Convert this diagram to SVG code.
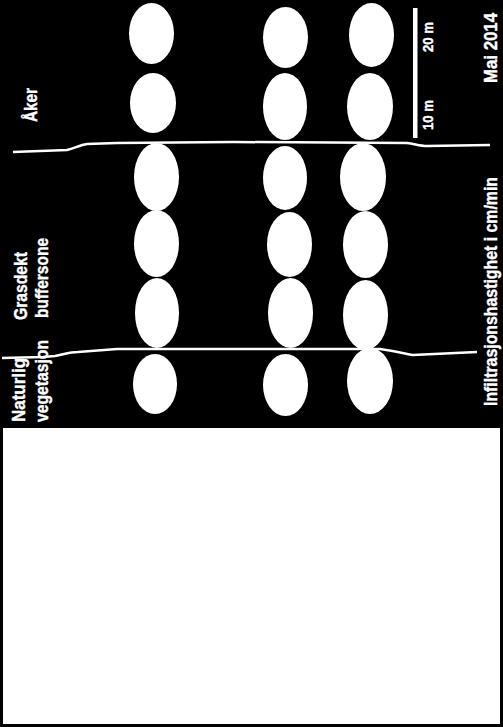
<svg xmlns="http://www.w3.org/2000/svg" width="503" height="727" viewBox="0 0 503 727">
<style>
.bg{fill:#000}
.panel{fill:#fff}
.e{fill:#fff}
.ln{fill:none;stroke:#fff;stroke-width:2.5}
.t{fill:#fff;stroke:#fff;stroke-width:0.4;font-family:"Liberation Sans",Arial,sans-serif;font-weight:bold;font-size:18px}
.s{font-size:14px}
</style>
<rect class="bg" x="0" y="0" width="503" height="727"/>
<rect class="panel" x="3" y="428" width="497" height="296"/>
<g id="col1">
<ellipse class="e" cx="151.5" cy="33.5" rx="22.5" ry="30.5"/>
<ellipse class="e" cx="153" cy="103" rx="23" ry="30"/>
<ellipse class="e" cx="156.5" cy="177" rx="22.5" ry="34"/>
<ellipse class="e" cx="156.5" cy="243.5" rx="22.5" ry="33.5"/>
<ellipse class="e" cx="157" cy="313" rx="22" ry="35"/>
<ellipse class="e" cx="155" cy="384" rx="22" ry="30"/>
</g>
<g id="col2">
<ellipse class="e" cx="285.5" cy="37.5" rx="22.5" ry="30.5"/>
<ellipse class="e" cx="285" cy="106.5" rx="22" ry="33.5"/>
<ellipse class="e" cx="285" cy="178" rx="22" ry="32"/>
<ellipse class="e" cx="289.5" cy="244.5" rx="22.5" ry="32.5"/>
<ellipse class="e" cx="290.5" cy="313" rx="22.5" ry="35"/>
<ellipse class="e" cx="285.5" cy="385" rx="22.5" ry="31"/>
</g>
<g id="col3">
<ellipse class="e" cx="371.5" cy="35" rx="22.5" ry="32"/>
<ellipse class="e" cx="370" cy="106.5" rx="23" ry="33.5"/>
<ellipse class="e" cx="363" cy="177" rx="23" ry="34"/>
<ellipse class="e" cx="365.5" cy="244.5" rx="22.5" ry="33.5"/>
<ellipse class="e" cx="365.5" cy="315" rx="22.5" ry="35"/>
<ellipse class="e" cx="370" cy="381" rx="23" ry="33"/>
</g>
<g id="boundaries">
<path class="ln" d="M13,152 L67,150 C75,148 80,145 87,144 L117,143 L233,142 L407,143 C415,144 420,146 427,146 L490,145"/>
<path class="ln" d="M2,358 L43,357 L55,356 C65,354 70,352 78,352 L117,349 L380,349 C395,351 405,354 413,355 L477,352"/>
</g>
<g id="scale">
<rect x="413" y="8" width="4.5" height="130" fill="#fff"/>
<text class="t s" transform="translate(433,37) rotate(-90)" text-anchor="middle" textLength="30" lengthAdjust="spacingAndGlyphs">20 m</text>
<text class="t s" transform="translate(433,115) rotate(-90)" text-anchor="middle" textLength="30" lengthAdjust="spacingAndGlyphs">10 m</text>
</g>
<g id="labels">
<text class="t" transform="translate(37,105) rotate(-90)" text-anchor="middle" textLength="34" lengthAdjust="spacingAndGlyphs">Åker</text>
<text class="t" transform="translate(27,320) rotate(-90)" textLength="68" lengthAdjust="spacingAndGlyphs">Grasdekt</text>
<text class="t" transform="translate(48,318) rotate(-90)" textLength="80" lengthAdjust="spacingAndGlyphs">buffersone</text>
<text class="t" transform="translate(25,422) rotate(-90)" textLength="64" lengthAdjust="spacingAndGlyphs">Naturlig</text>
<text class="t" transform="translate(48,422) rotate(-90)" textLength="82" lengthAdjust="spacingAndGlyphs">vegetasjon</text>
<text class="t" transform="translate(497,48) rotate(-90)" text-anchor="middle" textLength="70" lengthAdjust="spacingAndGlyphs">Mai 2014</text>
<text class="t" transform="translate(497,291.5) rotate(-90)" text-anchor="middle" textLength="229" lengthAdjust="spacingAndGlyphs">Infiltrasjonshastighet i cm/min</text>
</g>
</svg>
